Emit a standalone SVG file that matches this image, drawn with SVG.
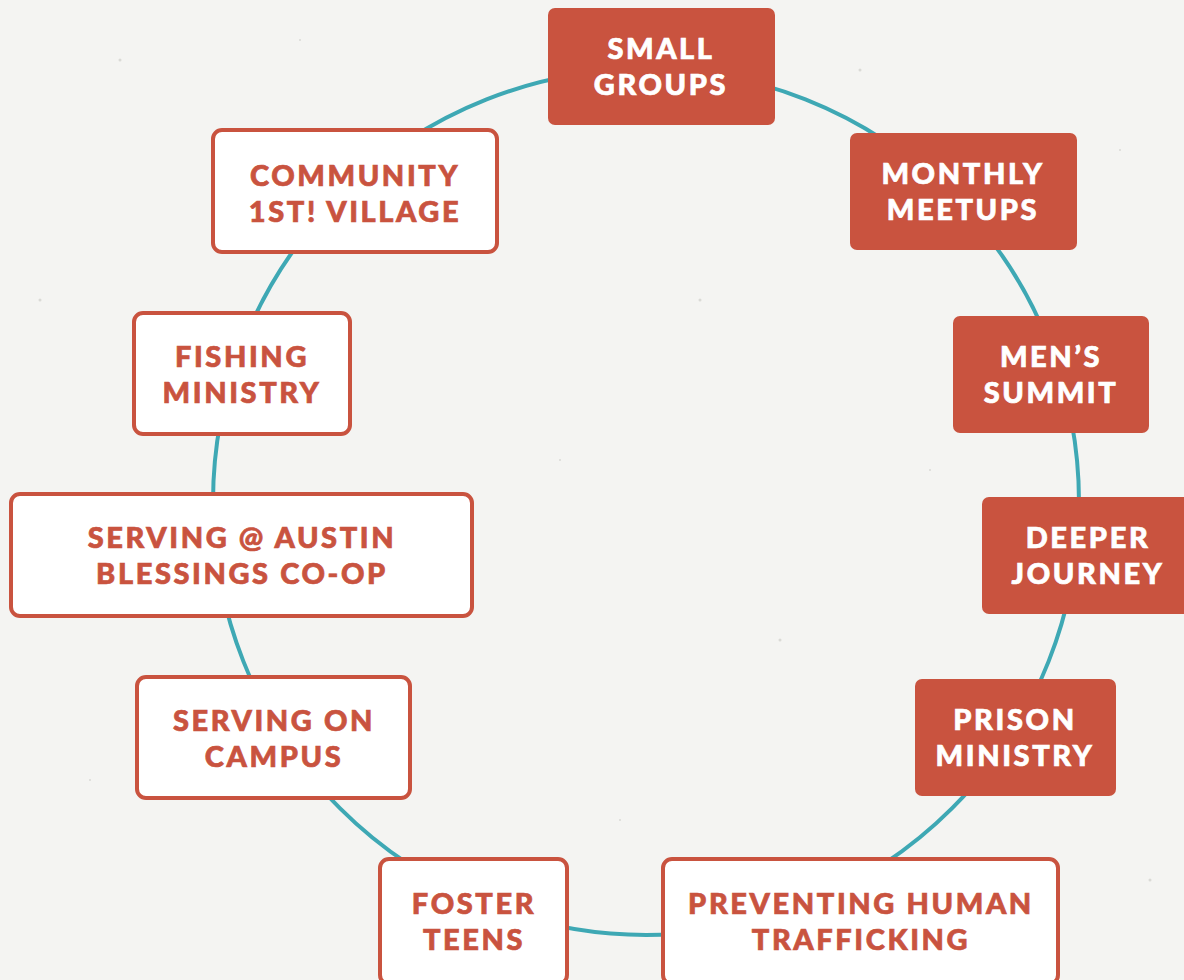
<svg xmlns="http://www.w3.org/2000/svg" width="1184" height="980" viewBox="0 0 1184 980">
<style>
.bg{fill:#F4F4F2}
.ring{fill:none;stroke:#3EA8B4;stroke-width:4}
.fill rect{fill:#C9533F}
.outline rect{fill:#FFFFFF;stroke:#C9533F;stroke-width:4}
text{font-family:Lato,"Liberation Sans",sans-serif;font-weight:900;font-size:29px;letter-spacing:2.6px;text-anchor:middle;stroke-width:0.7px;paint-order:stroke}
.fill text{fill:#FFFFFF;stroke:#FFFFFF}
.outline text{fill:#C9533F;stroke:#C9533F}
.speck{fill:#DADAD6}
</style>
<rect class="bg" x="0" y="0" width="1184" height="980"/>
<g id="texture">
<circle class="speck" cx="120" cy="60" r="1.5"/><circle class="speck" cx="300" cy="40" r="1"/><circle class="speck" cx="860" cy="70" r="1.5"/>
<circle class="speck" cx="1120" cy="150" r="1"/><circle class="speck" cx="700" cy="300" r="1.5"/><circle class="speck" cx="560" cy="460" r="1"/>
<circle class="speck" cx="780" cy="640" r="1.5"/><circle class="speck" cx="90" cy="780" r="1"/><circle class="speck" cx="1150" cy="880" r="1.5"/>
<circle class="speck" cx="620" cy="820" r="1"/><circle class="speck" cx="40" cy="300" r="1.5"/><circle class="speck" cx="930" cy="470" r="1"/>
</g>
<g id="connectors">
<circle class="ring" cx="646" cy="502" r="433"/>
</g>
<g id="small-groups" class="fill">
<rect x="548" y="8" width="227" height="117" rx="7"/>
<text x="661" y="59">SMALL</text><text x="661" y="95">GROUPS</text>
</g>
<g id="monthly-meetups" class="fill">
<rect x="850" y="133" width="227" height="117" rx="7"/>
<text x="963" y="184">MONTHLY</text><text x="963" y="220">MEETUPS</text>
</g>
<g id="mens-summit" class="fill">
<rect x="953" y="316" width="196" height="117" rx="7"/>
<text x="1051" y="367">MEN’S</text><text x="1051" y="403">SUMMIT</text>
</g>
<g id="deeper-journey" class="fill">
<rect x="982" y="497" width="212" height="117" rx="7"/>
<text x="1088" y="548">DEEPER</text><text x="1088" y="584">JOURNEY</text>
</g>
<g id="prison-ministry" class="fill">
<rect x="915" y="679" width="201" height="117" rx="7"/>
<text x="1015" y="730">PRISON</text><text x="1015" y="766">MINISTRY</text>
</g>
<g id="preventing-human-trafficking" class="outline">
<rect x="663" y="859" width="395" height="125" rx="9"/>
<text x="861" y="914">PREVENTING HUMAN</text><text x="861" y="950">TRAFFICKING</text>
</g>
<g id="foster-teens" class="outline">
<rect x="380" y="859" width="187" height="125" rx="9"/>
<text x="474" y="914">FOSTER</text><text x="474" y="950">TEENS</text>
</g>
<g id="serving-on-campus" class="outline">
<rect x="137" y="677" width="273" height="121" rx="9"/>
<text x="274" y="731">SERVING ON</text><text x="274" y="767">CAMPUS</text>
</g>
<g id="serving-austin-blessings" class="outline">
<rect x="11" y="494" width="461" height="122" rx="9"/>
<text x="242" y="548">SERVING @ AUSTIN</text><text x="242" y="584">BLESSINGS CO-OP</text>
</g>
<g id="fishing-ministry" class="outline">
<rect x="134" y="313" width="216" height="121" rx="9"/>
<text x="242" y="367">FISHING</text><text x="242" y="403">MINISTRY</text>
</g>
<g id="community-1st-village" class="outline">
<rect x="213" y="130" width="284" height="122" rx="9"/>
<text x="355" y="186">COMMUNITY</text><text x="355" y="222">1ST! VILLAGE</text>
</g>
</svg>
